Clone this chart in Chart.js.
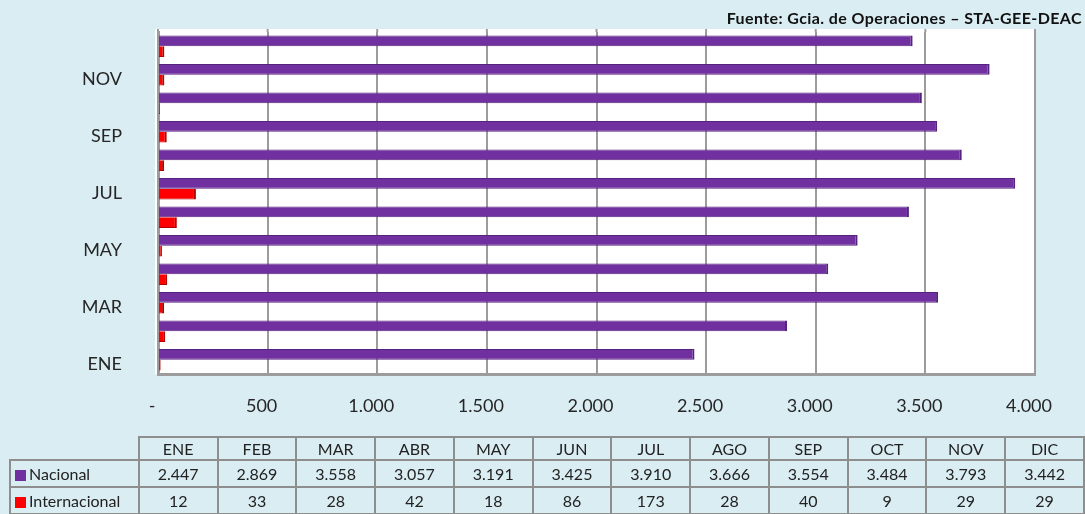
<!DOCTYPE html>
<html>
<head>
<meta charset="utf-8">
<script src="https://cdn.jsdelivr.net/npm/chart.js@4/dist/chart.umd.min.js"></script>
<style>
  html, body { margin: 0; padding: 0; background: #daedf3; }
  body { width: 1085px; height: 514px; position: relative; overflow: hidden; font-family: Lato, "Open Sans", sans-serif; }
  #wrap { position: absolute; left: 0; top: 0; width: 1085px; height: 437px; }
  #fuente { position: absolute; right: 3px; top: 8px; font: bold 16px Lato, sans-serif; letter-spacing: 0.4px; color: #111; }
  #tabla { position: absolute; left: 9px; top: 436px; border-collapse: collapse; font-size: 16px; color: #222; }
  #tabla td { border: 2px solid #8e8e8e; text-align: center; padding: 0; height: 25px; width: 77px; }
  #tabla tr.cab td { height: 21px; }
  #tabla td.vacio { border: none; border-bottom: 2px solid #8e8e8e; border-right: 2px solid #8e8e8e; }
  #tabla td.serie { text-align: left; width: 123px; padding-left: 4px; }
  .cuadro { display: inline-block; width: 11px; height: 11px; margin-right: 3px; vertical-align: -1px; }
</style>
</head>
<body>
<div id="wrap"><canvas id="chart"></canvas></div>
<div id="fuente">Fuente: Gcia. de Operaciones – STA-GEE-DEAC</div>
<table id="tabla"></table>
<script>
const meses = ['ENE', 'FEB', 'MAR', 'ABR', 'MAY', 'JUN', 'JUL', 'AGO', 'SEP', 'OCT', 'NOV', 'DIC'];
const nacional = [2447, 2869, 3558, 3057, 3191, 3425, 3910, 3666, 3554, 3484, 3793, 3442];
const internacional = [12, 33, 28, 42, 18, 86, 173, 28, 40, 9, 29, 29];
const colorNacional = '#7030a0';
const colorInternacional = '#ff0000';

// numero con punto de miles
function miles(v) {
    return String(v).replace(/\B(?=(\d{3})+(?!\d))/g, '.');
}

// tabla de datos debajo del grafico
let tabla = document.getElementById('tabla');
let html = '<tr class="cab"><td class="vacio" style="width:123px"></td>';
meses.forEach(m => { html += '<td>' + m + '</td>'; });
html += '</tr>';
[['Nacional', nacional, colorNacional], ['Internacional', internacional, colorInternacional]].forEach(s => {
    html += '<tr><td class="serie"><span class="cuadro" style="background:' + s[2] + '"></span>' + s[0] + '</td>';
    s[1].forEach(v => { html += '<td>' + miles(v) + '</td>'; });
    html += '</tr>';
});
tabla.innerHTML = html;

// fondo blanco del area de trazado (un poco mas alto que el area, como la pared 3D)
const EXTRA_ARRIBA = 3;
const fondoBlanco = {
    id: 'fondoBlanco',
    beforeDraw(chart) {
        let a = chart.chartArea;
        let ctx = chart.ctx;
        ctx.save();
        ctx.fillStyle = '#ffffff';
        ctx.fillRect(a.left - 3, a.top - EXTRA_ARRIBA, a.right - a.left + 3, a.bottom - a.top + EXTRA_ARRIBA);
        // prolongar las lineas de division hasta arriba
        let x = chart.scales.x;
        ctx.strokeStyle = '#9c9c9c';
        ctx.lineWidth = 2;
        x.ticks.forEach(t => {
            let px = x.getPixelForValue(t.value);
            ctx.beginPath();
            ctx.moveTo(px, a.top - EXTRA_ARRIBA);
            ctx.lineTo(px, a.top);
            ctx.stroke();
        });
        ctx.restore();
    }
};

let ctx = document.getElementById('chart').getContext('2d');
new Chart(ctx, {
    type: 'bar',
    data: {
        labels: meses,
        datasets: [
            {
                label: 'Nacional',
                data: nacional,
                backgroundColor: colorNacional,
                borderColor: '#55237d',
                borderWidth: { top: 1, right: 2, bottom: 1, left: 0 },
                borderSkipped: false
            },
            {
                label: 'Internacional',
                data: internacional,
                backgroundColor: colorInternacional,
                borderColor: '#b00000',
                borderWidth: { top: 0, right: 2, bottom: 1, left: 0 },
                borderSkipped: false
            }
        ]
    },
    options: {
        indexAxis: 'y',
        responsive: true,
        maintainAspectRatio: false,
        animation: false,
        layout: { padding: { top: 32, right: 50, bottom: 0, left: 0 } },
        datasets: { bar: { categoryPercentage: 0.76, barPercentage: 1 } },
        plugins: {
            legend: { display: false },
            tooltip: { enabled: false }
        },
        scales: {
            x: {
                min: 0,
                max: 4000,
                ticks: {
                    stepSize: 500,
                    padding: 21,
                    labelOffset: -6,
                    color: '#262626',
                    font: { family: 'Lato', size: 18 },
                    callback: v => v === 0 ? '-' : miles(v)
                },
                grid: { color: '#9c9c9c', lineWidth: 2, drawTicks: false },
                border: { display: true, color: '#9c9c9c', width: 3 },
                afterFit: s => { s.height = 63; }
            },
            y: {
                reverse: true,
                ticks: {
                    autoSkip: false,
                    padding: 28,
                    labelOffset: 4,
                    color: '#262626',
                    font: { family: 'Lato', size: 18 },
                    callback: (v, i) => i % 2 === 0 ? meses[i] : ''
                },
                grid: { display: false },
                border: { display: true, color: '#9c9c9c', width: 3 },
                afterFit: s => {
                    s.width = 158;
                    s.paddingTop = 0;
                    s.paddingBottom = 0;
                }
            }
        }
    },
    plugins: [fondoBlanco]
});
</script>
</body>
</html>
